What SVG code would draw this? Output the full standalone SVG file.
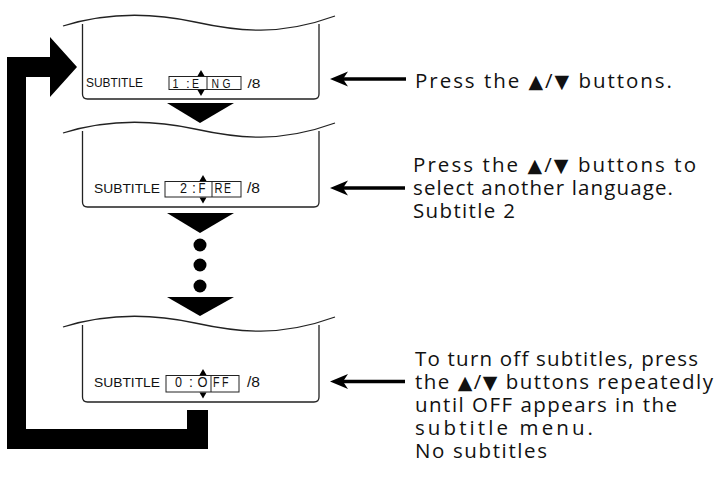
<svg xmlns="http://www.w3.org/2000/svg" width="726" height="477" viewBox="0 0 726 477">
<defs>
<style>
.panel{fill:none;stroke:#222;stroke-width:1.3}
.box{fill:none;stroke:#222;stroke-width:1}
.lbl{font-family:"Liberation Sans",Arial,sans-serif;fill:#111}
.desc{font-family:"Open Sans","DejaVu Sans",sans-serif;font-size:20.5px;fill:#111;font-variant-ligatures:none}
.sym{font-family:"DejaVu Sans",sans-serif;font-size:19px}
.blk{fill:#000}
.conn{stroke:#000;stroke-width:3.5;fill:none}
</style>
</defs>
<rect width="726" height="477" fill="#fff"/>

<g id="panel1">
<path class="panel" d="M63,26 C95,16 140,10 195,22 C239,31.6 280,36 335,16"/>
<path class="panel" d="M82.5,24 V94 Q82.5,99 87.5,99 H314 Q319,99 319,94 V24"/>
<text class="lbl" x="86" y="87" font-size="13.5" textLength="57" lengthAdjust="spacingAndGlyphs">SUBTITLE</text>
<rect class="box" x="169" y="76.5" width="72" height="13"/>
<line class="box" x1="207" y1="76.5" x2="207" y2="89.5"/>
<g class="lbl" font-size="13.5">
<text x="172.5" y="87.5" textLength="6" lengthAdjust="spacingAndGlyphs">1</text><text x="186" y="87.5">:</text><text x="192" y="87.5" textLength="7" lengthAdjust="spacingAndGlyphs">E</text>
<text x="211.5" y="87.5" textLength="7.5" lengthAdjust="spacingAndGlyphs">N</text><text x="222.5" y="87.5" textLength="8" lengthAdjust="spacingAndGlyphs">G</text><text x="247.5" y="87.5" textLength="13" lengthAdjust="spacingAndGlyphs">/8</text>
</g>
<polygon class="blk" points="197.5,76 204.5,76 201,70"/>
<polygon class="blk" points="197.5,90 204.5,90 201,96"/>
</g>

<g id="panel2">
<path class="panel" d="M63,133 C95,123 140,117 195,129 C239,138.6 280,143 335,123"/>
<path class="panel" d="M82.5,131 V202 Q82.5,207 87.5,207 H314 Q319,207 319,202 V131"/>
<text class="lbl" x="94" y="193" font-size="13.5" textLength="66" lengthAdjust="spacingAndGlyphs">SUBTITLE</text>
<rect class="box" x="165" y="181.5" width="76" height="15.5"/>
<line class="box" x1="212" y1="181.5" x2="212" y2="197"/>
<g class="lbl" font-size="14">
<text x="180" y="193" textLength="7" lengthAdjust="spacingAndGlyphs">2</text><text x="192" y="193">:</text><text x="198.5" y="193" textLength="7" lengthAdjust="spacingAndGlyphs">F</text>
<text x="214.5" y="193" textLength="8" lengthAdjust="spacingAndGlyphs">R</text><text x="224" y="193" textLength="7" lengthAdjust="spacingAndGlyphs">E</text><text x="247" y="193" textLength="13" lengthAdjust="spacingAndGlyphs">/8</text>
</g>
<polygon class="blk" points="199.5,181 206.5,181 203,175"/>
<polygon class="blk" points="199.5,197.5 206.5,197.5 203,203.5"/>
</g>

<g id="panel3">
<path class="panel" d="M63,327 C95,317 140,311 195,323 C239,332.6 280,337 335,317"/>
<path class="panel" d="M82.5,325 V397 Q82.5,402 87.5,402 H314 Q319,402 319,397 V325"/>
<text class="lbl" x="94" y="387" font-size="13.5" textLength="66" lengthAdjust="spacingAndGlyphs">SUBTITLE</text>
<rect class="box" x="166" y="375.5" width="73" height="16.5"/>
<line class="box" x1="211" y1="375.5" x2="211" y2="392"/>
<g class="lbl" font-size="14">
<text x="175" y="387" textLength="7" lengthAdjust="spacingAndGlyphs">0</text><text x="189" y="387">:</text><text x="197.5" y="387" textLength="10" lengthAdjust="spacingAndGlyphs">O</text>
<text x="213" y="387" textLength="6.5" lengthAdjust="spacingAndGlyphs">F</text><text x="222" y="387" textLength="6.5" lengthAdjust="spacingAndGlyphs">F</text><text x="247" y="387" textLength="13" lengthAdjust="spacingAndGlyphs">/8</text>
</g>
<polygon class="blk" points="199.5,375 206.5,375 203,369"/>
<polygon class="blk" points="199.5,392.5 206.5,392.5 203,398.5"/>
</g>

<g id="text1">
<text class="desc" x="415" y="88" textLength="257" lengthAdjust="spacing">Press the <tspan class="sym">▲</tspan>/<tspan class="sym">▼</tspan> buttons.</text>
</g>
<g id="text2">
<text class="desc" x="413" y="172" textLength="283" lengthAdjust="spacing">Press the <tspan class="sym">▲</tspan>/<tspan class="sym">▼</tspan> buttons to</text>
<text class="desc" x="413" y="195" textLength="260" lengthAdjust="spacing">select another language.</text>
<text class="desc" x="413" y="218" textLength="102" lengthAdjust="spacing">Subtitle 2</text>
</g>
<g id="text3">
<text class="desc" x="415" y="366" textLength="283" lengthAdjust="spacing">To turn off subtitles, press</text>
<text class="desc" x="415" y="389" textLength="298" lengthAdjust="spacing">the <tspan class="sym">▲</tspan>/<tspan class="sym">▼</tspan> buttons repeatedly</text>
<text class="desc" x="415" y="412" textLength="262" lengthAdjust="spacing">until OFF appears in the</text>
<text class="desc" x="415" y="435" textLength="178" lengthAdjust="spacing">subtitle menu.</text>
<text class="desc" x="415" y="458" textLength="132" lengthAdjust="spacing">No subtitles</text>
</g>

<g id="connectors">
<polygon class="blk" points="167,103 234,103 200,123"/>
<polygon class="blk" points="167,213 234,213 200,233"/>
<circle class="blk" cx="200" cy="245" r="6.5"/>
<circle class="blk" cx="200" cy="265" r="6.5"/>
<circle class="blk" cx="200" cy="286" r="6.5"/>
<polygon class="blk" points="167,297 234,297 200,316"/>
<polygon class="blk" points="7,57 50,57 50,37 77,67 50,97 50,77 26,77 26,429 187,429 187,410 208,410 208,449 7,449"/>
<line class="conn" x1="343" y1="79" x2="406" y2="79"/>
<polygon class="blk" points="330,79 348,71.5 343,79 348,86.5"/>
<line class="conn" x1="343" y1="188" x2="405" y2="188"/>
<polygon class="blk" points="330,188 348,180.5 343,188 348,195.5"/>
<line class="conn" x1="343" y1="381.5" x2="405" y2="381.5"/>
<polygon class="blk" points="330,381.5 348,374 343,381.5 348,389"/>
</g>
</svg>
